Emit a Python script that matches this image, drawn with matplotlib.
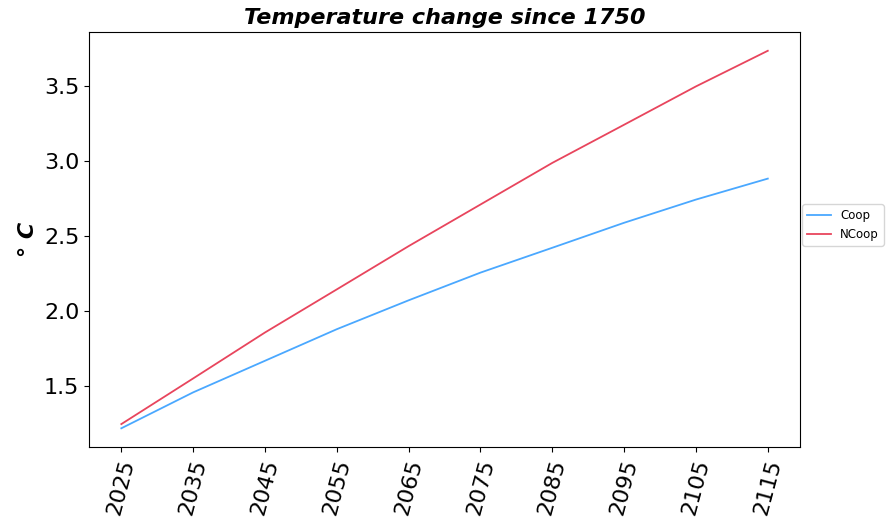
from matplotlib import pyplot as plt
import numpy as np

years = [2025, 2035, 2045, 2055, 2065, 2075, 2085, 2095, 2105, 2115]
coop = [1.216, 1.456, 1.667, 1.878, 2.071, 2.256, 2.422, 2.589, 2.744, 2.884]
ncoop = [1.244, 1.549, 1.856, 2.144, 2.433, 2.711, 2.989, 3.244, 3.500, 3.738]

fig = plt.figure(figsize=(8.9, 5.23), dpi=100)
ax = fig.add_axes([0.1, 0.145, 0.799, 0.794])

ax.plot(years, coop, label="Coop", color="#4aa8ff", linewidth=1.3)
ax.plot(years, ncoop, label="NCoop", color="#e8455d", linewidth=1.3)

ax.set_xticks(years)
ax.set_xticklabels([str(y) for y in years], rotation=75, fontsize=16)
ax.tick_params(axis='y', labelsize=16)
ax.set_yticks([1.5, 2.0, 2.5, 3.0, 3.5])

ax.set_title("Temperature change since 1750", fontsize=16, fontweight="bold", style="italic")
ax.set_ylabel("° C", fontsize=16, fontweight="bold", style="italic")

ax.legend(loc="center left", bbox_to_anchor=(1.0, 0.535), fontsize=8.5, borderaxespad=0.2)

fig.savefig("out.png", dpi=100)
